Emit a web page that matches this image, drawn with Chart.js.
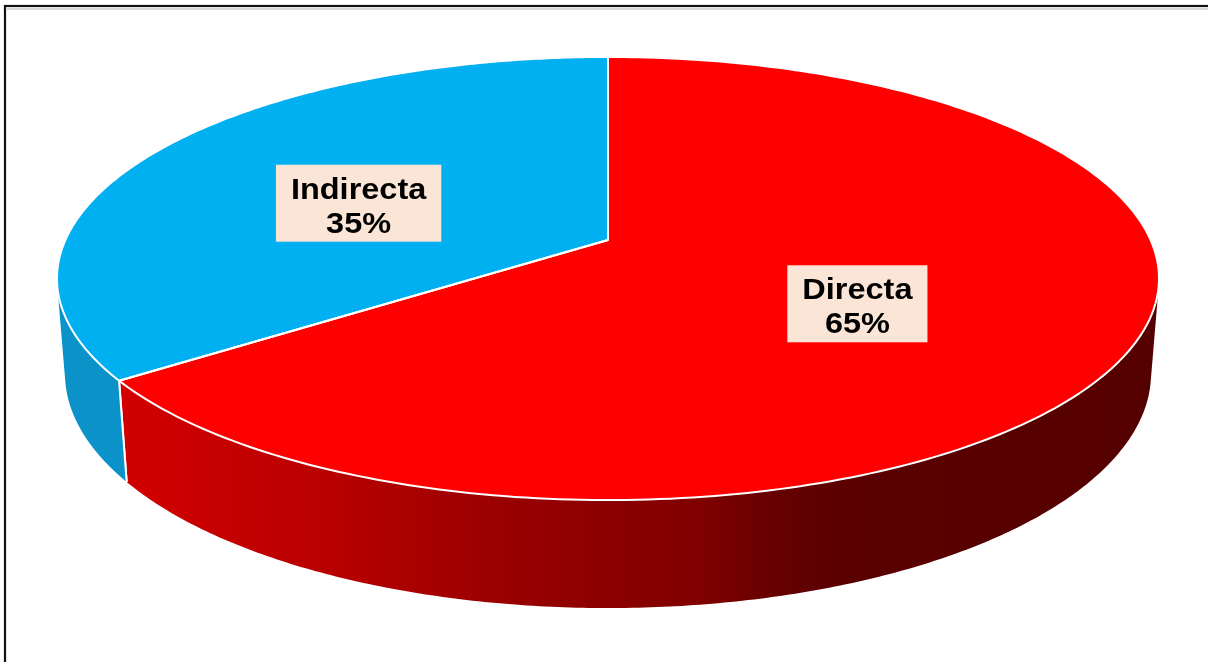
<!DOCTYPE html>
<html>
<head>
<meta charset="utf-8">
<script src="https://cdn.jsdelivr.net/npm/chart.js@4/dist/chart.umd.min.js"></script>
<style>
  html, body { margin: 0; padding: 0; background: #ffffff; }
  #wrap { position: relative; width: 1208px; height: 662px; }
  canvas { display: block; }
</style>
</head>
<body>
<div id="wrap"><canvas id="c" width="1208" height="662"></canvas></div>
<script>
// ---- data ----
const categories = ['Directa', 'Indirecta'];
const values = [65, 35];
const topColors = ['#FF0000', '#00B0F0'];
const sideColors = ['red-gradient', '#0B93C9'];

// ---- 3D camera (style / layout) ----
const CAM = { X0: 608, Y0: 240, f: 2866, L: 5.282, sin: 0.396, cos: 0.9183, H: 0.1895 };
function proj(u, v, y) {
  const d = CAM.L - y * CAM.sin - v * CAM.cos;
  return [CAM.X0 + CAM.f * u / d, CAM.Y0 - CAM.f * (y * CAM.cos - v * CAM.sin) / d];
}
function rimPoint(a, r, y) { return proj(r * Math.cos(a), r * Math.sin(a), y); }

const threeD = {
  id: 'threeD',
  beforeDraw(chart) {
    const ctx = chart.ctx;
    ctx.save();
    ctx.fillStyle = '#ffffff';
    ctx.fillRect(0, 0, chart.width, chart.height);
    ctx.strokeStyle = '#D9D9D9';
    ctx.lineWidth = 2;
    ctx.beginPath();
    ctx.moveTo(7, 9); ctx.lineTo(1210, 9);
    ctx.stroke();
    ctx.strokeStyle = '#111111';
    ctx.lineWidth = 2.2;
    ctx.strokeRect(5, 6, 1230, 700);
    ctx.restore();
  },
  beforeDatasetsDraw(chart) {
    const ctx = chart.ctx;
    const arcs = chart.getDatasetMeta(0).data;
    const vis = Math.asin(1 / (CAM.L * CAM.cos));
    const lo = vis, hi = Math.PI - vis;
    const N = 240;
    ctx.save();
    // walls
    arcs.forEach((arc, i) => {
      const s = arc.startAngle, e = arc.endAngle;
      for (let k = -1; k <= 1; k++) {
        const a0 = Math.max(s, lo + 2 * Math.PI * k);
        const a1 = Math.min(e, hi + 2 * Math.PI * k);
        if (a1 <= a0) continue;
        ctx.beginPath();
        for (let j = 0; j <= N; j++) {
          const a = a0 + (a1 - a0) * j / N;
          const p = rimPoint(a, 1, 0);
          j === 0 ? ctx.moveTo(p[0], p[1]) : ctx.lineTo(p[0], p[1]);
        }
        for (let j = N; j >= 0; j--) {
          const a = a0 + (a1 - a0) * j / N;
          const p = rimPoint(a, 1, -CAM.H);
          ctx.lineTo(p[0], p[1]);
        }
        ctx.closePath();
        if (sideColors[i] === 'red-gradient') {
          const g = ctx.createLinearGradient(110, 0, 1160, 0);
          const st = [[110, '#D40000'], [230, '#C40000'], [330, '#B80000'], [430, '#A60000'],
                      [500, '#9A0000'], [600, '#8D0000'], [700, '#800000'], [780, '#640000'],
                      [850, '#5A0000'], [1160, '#550000']];
          st.forEach(([x, c]) => g.addColorStop((x - 110) / 1050, c));
          ctx.fillStyle = g;
        } else {
          ctx.fillStyle = sideColors[i];
        }
        ctx.fill();
        ctx.strokeStyle = '#ffffff';
        ctx.lineWidth = 2;
        [[a0, s], [a1, e]].forEach(([a, b]) => {
          if (Math.abs(a - b) < 1e-6) {
            const p = rimPoint(a, 1, 0), q = rimPoint(a, 1, -CAM.H);
            ctx.beginPath(); ctx.moveTo(p[0], p[1]); ctx.lineTo(q[0], q[1]); ctx.stroke();
          }
        });
      }
    });
    // top faces
    const slicePath = (arc) => {
      const s = arc.startAngle, e = arc.endAngle;
      ctx.beginPath();
      const c = proj(0, 0, 0);
      ctx.moveTo(c[0], c[1]);
      for (let j = 0; j <= N; j++) {
        const a = s + (e - s) * j / N;
        const p = rimPoint(a, 1, 0);
        ctx.lineTo(p[0], p[1]);
      }
      ctx.closePath();
    };
    arcs.forEach((arc, i) => { slicePath(arc); ctx.fillStyle = topColors[i]; ctx.fill(); });
    arcs.forEach((arc) => {
      slicePath(arc);
      ctx.strokeStyle = '#ffffff';
      ctx.lineWidth = 2;
      ctx.lineJoin = 'round';
      ctx.stroke();
    });
    ctx.restore();
    return false;
  },
  afterDraw(chart) {
    const ctx = chart.ctx;
    const arcs = chart.getDatasetMeta(0).data;
    const total = values.reduce((a, b) => a + b, 0);
    // top-face half extents
    const right = rimPoint(Math.asin(CAM.L ? 1 / (CAM.L / CAM.cos) : 0), 1, 0);
    const far = rimPoint(-Math.PI / 2, 1, 0), near = rimPoint(Math.PI / 2, 1, 0);
    const rx = right[0] - CAM.X0, ry = (near[1] - far[1]) / 2;
    const c0 = proj(0, 0, 0);
    ctx.save();
    arcs.forEach((arc, i) => {
      const mid = (arc.startAngle + arc.endAngle) / 2;
      const cx = c0[0] + 0.508 * rx * Math.cos(mid);
      const cy = c0[1] + 13.5 + 0.5 * ry * Math.sin(mid);
      const l1 = categories[i];
      const l2 = Math.round(values[i] / total * 100) + '%';
      ctx.font = 'bold 29px "Liberation Sans", Arial, sans-serif';
      const sx = 1.12;
      const w = Math.max(ctx.measureText(l1).width, ctx.measureText(l2).width) * sx + 30;
      const h = 77;
      ctx.fillStyle = '#FBE5D6';
      ctx.fillRect(cx - w / 2, cy - h / 2, w, h);
      ctx.fillStyle = '#000000';
      ctx.textAlign = 'center';
      ctx.textBaseline = 'alphabetic';
      ctx.save();
      ctx.translate(cx, cy);
      ctx.scale(sx, 1);
      ctx.fillText(l1, 0, -4.5);
      ctx.fillText(l2, 0, 29.5);
      ctx.restore();
    });
    ctx.restore();
  }
};

new Chart(document.getElementById('c'), {
  type: 'pie',
  data: {
    labels: categories,
    datasets: [{ data: values, backgroundColor: topColors, borderColor: '#ffffff', borderWidth: 2 }]
  },
  options: {
    responsive: false,
    animation: false,
    rotation: 0,
    plugins: { legend: { display: false }, tooltip: { enabled: false } },
    layout: { padding: 20 }
  },
  plugins: [threeD]
});
</script>
</body>
</html>
